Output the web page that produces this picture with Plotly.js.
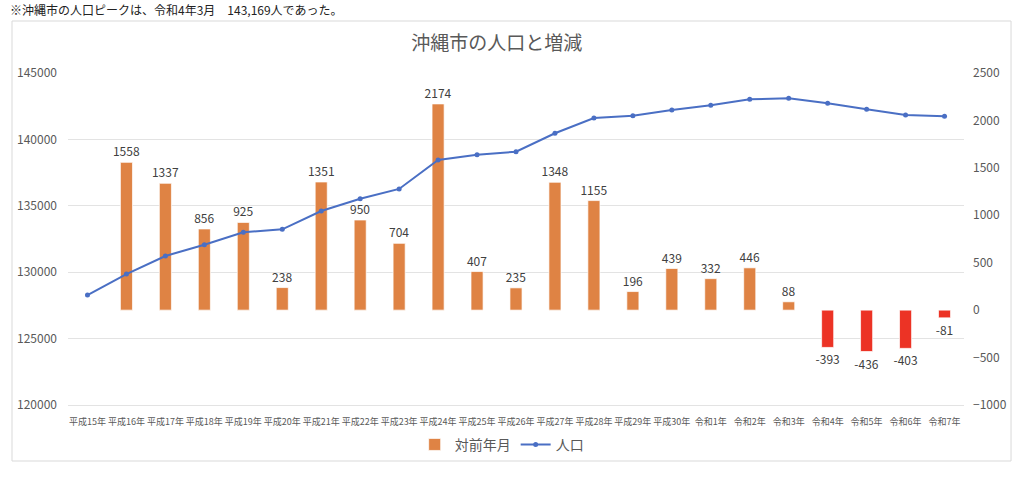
<!DOCTYPE html>
<html>
<head>
<meta charset="utf-8">
<script src="https://cdn.plot.ly/plotly-3.0.1.min.js"></script>
<style>
  html, body { margin: 0; padding: 0; background: #fff; }
  #chart { width: 1024px; height: 481px; }
</style>
</head>
<body>
<div id="chart"></div>
<script>
// 年度ラベル
var years = ['平成15年', '平成16年', '平成17年', '平成18年', '平成19年', '平成20年',
    '平成21年', '平成22年', '平成23年', '平成24年', '平成25年', '平成26年',
    '平成27年', '平成28年', '平成29年', '平成30年', '令和1年', '令和2年',
    '令和3年', '令和4年', '令和5年', '令和6年', '令和7年'];

// 対前年月の増減（平成15年は値なし）
var change = [null, 1558, 1337, 856, 925, 238, 1351, 950, 704, 2174, 407, 235,
    1348, 1155, 196, 439, 332, 446, 88, -393, -436, -403, -81];

// 人口
var population = [128280, 129860, 131220, 132070, 133000, 133230, 134610, 135530,
    136270, 138450, 138850, 139070, 140460, 141610, 141790, 142210, 142570,
    143020, 143090, 142720, 142270, 141840, 141740];

var note = '※沖縄市の人口ピークは、令和4年3月　143,169人であった。';

var orange = '#DF8344';
var red = '#EC3325';
var blue = '#4A6FC4';
var grey = '#595959';
var font = '"Noto Sans CJK JP", "Noto Sans", sans-serif';

var barColors = change.map(function(v) { return v !== null && v < 0 ? red : orange; });

var bars = {
    type: 'bar',
    name: '対前年月',
    x: years,
    y: change,
    yaxis: 'y',
    width: 0.31,
    marker: { color: barColors, line: { color: 'rgba(255,255,255,0.7)', width: 1 } },
    text: change.map(function(v) { return v === null ? '' : String(v); }),
    textposition: 'outside',
    constraintext: 'none',
    textfont: { size: 12, color: '#404040', family: font },
    cliponaxis: false,
    hoverinfo: 'x+y'
};

var line = {
    type: 'scatter',
    mode: 'lines+markers',
    name: '人口',
    x: years,
    y: population,
    yaxis: 'y2',
    line: { color: blue, width: 2 },
    marker: { color: blue, size: 5 },
    cliponaxis: false
};

var layout = {
    width: 1024,
    height: 481,
    paper_bgcolor: '#fff',
    plot_bgcolor: 'rgba(0,0,0,0)',
    font: { family: font, color: grey },
    margin: { l: 68, r: 60, t: 73, b: 76 },
    showlegend: true,
    title: {
        text: '沖縄市の人口と増減',
        font: { size: 19, color: grey, family: font },
        x: 0.485,
        xanchor: 'center',
        y: 0.91,
        yanchor: 'middle'
    },
    xaxis: {
        type: 'category',
        range: [-0.5, 22.5],
        autorange: false,
        tickfont: { size: 9, color: grey },
        showgrid: false,
        showline: true,
        linecolor: '#E3E3E3',
        linewidth: 1,
        ticks: '',
        ticklabelstandoff: 8,
        tickangle: 0,
        automargin: false
    },
    yaxis: {
        side: 'right',
        range: [-1000, 2500],
        dtick: 500,
        tickformat: 'd',
        showgrid: false,
        zeroline: false,
        tickfont: { size: 12, color: grey },
        ticklabelstandoff: 8,
        automargin: false
    },
    yaxis2: {
        side: 'left',
        overlaying: 'y',
        range: [120000, 145000],
        dtick: 5000,
        tickformat: 'd',
        showgrid: true,
        gridcolor: '#E3E3E3',
        gridwidth: 1,
        zeroline: false,
        tickfont: { size: 12, color: grey },
        ticklabelstandoff: 10,
        automargin: false
    },
    legend: {
        orientation: 'h',
        x: 0.484,
        xanchor: 'center',
        y: -0.12,
        yanchor: 'middle',
        font: { size: 14, color: grey },
        itemwidth: 30,
        bgcolor: 'rgba(0,0,0,0)'
    },
    shapes: [{
        type: 'rect',
        xref: 'paper', yref: 'paper',
        x0: -0.0625, x1: 1.0525,
        y0: -0.1687, y1: 1.1566,
        line: { color: '#D9D9D9', width: 1 },
        fillcolor: 'rgba(0,0,0,0)',
        layer: 'below'
    }],
    annotations: [{
        text: note,
        xref: 'paper', yref: 'paper',
        x: -0.067, y: 1.19,
        xanchor: 'left', yanchor: 'middle',
        showarrow: false,
        font: { size: 12, color: '#222', family: font }
    }]
};

Plotly.newPlot('chart', [bars, line], layout, { displayModeBar: false, responsive: false });
</script>
</body>
</html>
